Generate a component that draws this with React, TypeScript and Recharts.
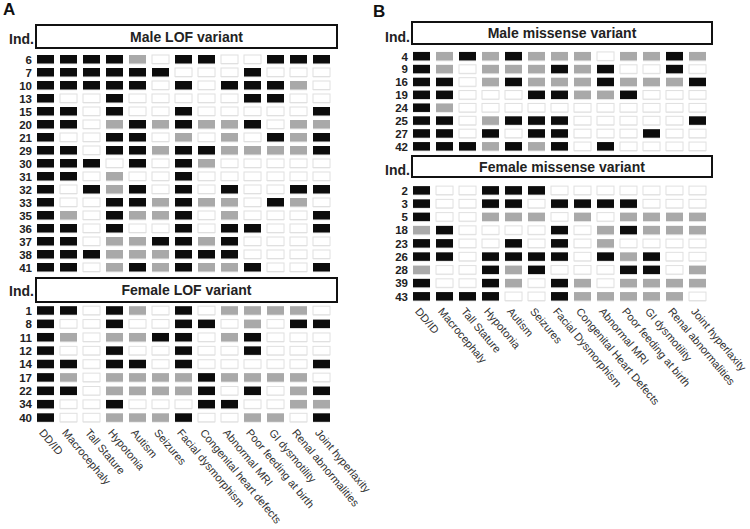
import React from 'react';
import { ScatterChart, Scatter, XAxis, YAxis } from 'recharts';

const FONT = '"Liberation Sans", Arial, sans-serif';

const traitsA = [
  'DD/ID', 'Macrocephaly', 'Tall Stature', 'Hypotonia', 'Autism', 'Seizures',
  'Facial dysmorphism', 'Congenital heart defects', 'Abnormal MRI',
  'Poor feeding at birth', 'GI dysmotility', 'Renal abnormalities', 'Joint hyperlaxity',
];
const traitsB = [
  'DD/ID', 'Macrocephaly', 'Tall Stature', 'Hypotonia', 'Autism', 'Seizures',
  'Facial Dysmorphism', 'Congenital Heart Defects', 'Abnormal MRI',
  'Poor feeding at birth', 'GI dysmotility', 'Renal abnormalities', 'Joint hyperlaxity',
];

// 2 = present (black), 1 = not reported (grey), 0 = absent (white)
const maleLofIds = ['6', '7', '10', '13', '15', '20', '21', '29', '30', '31', '32', '33', '35', '36', '37', '38', '41'];
const maleLof = [
  [2, 2, 2, 2, 1, 0, 2, 2, 0, 0, 2, 2, 2],
  [2, 2, 2, 2, 2, 2, 0, 0, 0, 2, 0, 0, 0],
  [2, 2, 2, 2, 2, 0, 2, 0, 2, 2, 2, 1, 0],
  [2, 0, 0, 2, 0, 0, 0, 0, 0, 2, 2, 0, 0],
  [2, 2, 0, 2, 0, 0, 2, 0, 0, 0, 0, 0, 2],
  [2, 2, 0, 1, 2, 1, 2, 1, 1, 2, 0, 1, 1],
  [2, 0, 0, 2, 2, 0, 1, 0, 1, 0, 2, 1, 2],
  [2, 2, 0, 2, 2, 1, 2, 2, 1, 1, 1, 1, 2],
  [2, 2, 2, 0, 2, 0, 2, 1, 0, 0, 0, 0, 0],
  [2, 2, 0, 1, 0, 0, 2, 0, 0, 0, 0, 0, 0],
  [2, 0, 2, 1, 2, 0, 2, 0, 2, 0, 0, 2, 2],
  [2, 0, 0, 2, 2, 1, 2, 1, 1, 0, 2, 1, 0],
  [2, 1, 0, 2, 1, 1, 2, 0, 1, 0, 0, 0, 2],
  [2, 2, 0, 2, 0, 0, 2, 0, 2, 2, 0, 0, 2],
  [2, 2, 0, 1, 1, 2, 2, 1, 2, 0, 0, 0, 0],
  [2, 2, 2, 1, 1, 1, 2, 2, 2, 0, 0, 0, 0],
  [2, 2, 0, 1, 2, 1, 2, 1, 1, 2, 0, 0, 2],
];

const femaleLofIds = ['1', '8', '11', '12', '14', '17', '22', '34', '40'];
const femaleLof = [
  [2, 2, 0, 2, 1, 0, 2, 0, 1, 1, 1, 1, 0],
  [2, 0, 0, 2, 0, 0, 2, 2, 0, 1, 0, 2, 2],
  [2, 1, 0, 1, 1, 2, 2, 0, 1, 2, 0, 0, 0],
  [2, 0, 0, 2, 0, 0, 2, 0, 0, 2, 0, 0, 0],
  [2, 2, 0, 2, 2, 0, 2, 0, 0, 0, 0, 0, 2],
  [2, 1, 0, 1, 1, 1, 1, 2, 1, 1, 1, 1, 0],
  [2, 2, 0, 1, 1, 1, 1, 2, 0, 2, 0, 1, 2],
  [2, 0, 0, 2, 0, 0, 0, 2, 2, 0, 0, 1, 1],
  [2, 0, 0, 1, 1, 1, 2, 0, 0, 1, 1, 0, 2],
];

const maleMisIds = ['4', '9', '16', '19', '24', '25', '27', '42'];
const maleMis = [
  [2, 1, 2, 1, 2, 1, 1, 1, 0, 1, 1, 2, 1],
  [2, 1, 0, 1, 1, 1, 2, 1, 2, 0, 0, 2, 0],
  [2, 2, 0, 1, 2, 1, 1, 1, 2, 1, 1, 1, 2],
  [2, 2, 0, 0, 0, 2, 2, 1, 1, 2, 0, 0, 0],
  [2, 1, 0, 0, 0, 0, 0, 0, 0, 0, 0, 0, 0],
  [2, 2, 0, 1, 2, 2, 2, 0, 0, 0, 0, 0, 2],
  [2, 2, 0, 2, 0, 2, 2, 0, 0, 0, 2, 0, 0],
  [2, 2, 2, 1, 2, 1, 2, 0, 2, 0, 0, 0, 0],
];

const femaleMisIds = ['2', '3', '5', '18', '23', '26', '28', '39', '43'];
const femaleMis = [
  [2, 0, 0, 2, 2, 2, 0, 0, 0, 0, 0, 0, 0],
  [2, 0, 0, 2, 2, 0, 2, 2, 2, 2, 0, 0, 0],
  [2, 0, 0, 1, 1, 1, 0, 1, 0, 1, 1, 1, 1],
  [1, 2, 0, 0, 0, 0, 2, 0, 1, 2, 1, 1, 1],
  [2, 2, 0, 0, 2, 0, 2, 0, 1, 0, 0, 0, 0],
  [2, 2, 0, 2, 2, 2, 2, 0, 2, 1, 2, 0, 0],
  [1, 0, 0, 2, 1, 2, 0, 0, 0, 2, 2, 0, 1],
  [2, 0, 0, 2, 1, 0, 2, 1, 0, 1, 1, 1, 1],
  [2, 2, 2, 2, 0, 0, 2, 1, 1, 1, 1, 1, 0],
];

const FILLS = ['#ffffff', '#a9a9a9', '#0c0c0c'];

const renderCell = (props: any) => {
  const { cx, cy, payload } = props;
  const v = payload.v;
  return (
    <g>
      <rect x={cx - 8.5} y={cy - 2} width={17} height={7} fill="#ebebeb" />
      <rect
        x={cx - 8.5}
        y={cy - 4.5}
        width={17}
        height={8.5}
        fill={FILLS[v]}
        stroke={v === 0 ? '#e0e0e0' : 'none'}
        strokeWidth={1}
      />
    </g>
  );
};

const colTicks = traitsA.map((_, i) => i);
const EXTRA_R = 90;

function Grid({ ids, rows, labels, left, top, plotH, showX }: any) {
  const pts = rows.flatMap((r: number[], i: number) => r.map((v, j) => ({ x: j, y: i, v })));
  const xH = showX ? 110 : 0;

  const xTick = ({ x, y, payload }: any) => (
    <text
      transform={`translate(${x - 7},${y + 8.5}) rotate(50)`}
      fontSize={11}
      fontFamily={FONT}
      fill="#333"
      textAnchor="start"
    >
      {labels[payload.value]}
    </text>
  );

  return (
    <div style={{ position: 'absolute', left, top }}>
      <ScatterChart width={329 + EXTRA_R} height={plotH + xH} margin={{ top: 0, right: EXTRA_R, bottom: 0, left: 0 }}>
        <XAxis
          type="number"
          dataKey="x"
          domain={[-0.5, 12.5]}
          ticks={colTicks}
          interval={0}
          hide={!showX}
          height={xH}
          axisLine={false}
          tickLine={false}
          tickSize={0}
          tickMargin={0}
          tick={xTick}
          allowDataOverflow
        />
        <YAxis
          type="number"
          dataKey="y"
          domain={[-0.5, ids.length - 0.5]}
          ticks={ids.map((_: string, i: number) => i)}
          interval={0}
          reversed
          width={30}
          axisLine={false}
          tickLine={false}
          tickSize={0}
          tickMargin={2}
          tickFormatter={(i: number) => ids[i]}
          tick={{ fontSize: 11.5, fontWeight: 700, fill: '#222', fontFamily: FONT }}
          allowDataOverflow
        />
        <Scatter data={pts} shape={renderCell} isAnimationActive={false} />
      </ScatterChart>
    </div>
  );
}

function Header({ x, y, w, h, title, indY }: any) {
  return (
    <g>
      <rect x={x} y={y} width={w} height={h} fill="#fff" stroke="#111" strokeWidth={2} />
      <text x={x + w / 2} y={y + h / 2 + 5} textAnchor="middle" fontSize={14} fontWeight={700} fill="#222" fontFamily={FONT}>
        {title}
      </text>
      <text x={x - 2} y={indY} textAnchor="end" fontSize={14} fontWeight={700} fill="#222" fontFamily={FONT}>
        Ind.
      </text>
    </g>
  );
}

export default function App() {
  return (
    <div style={{ position: 'absolute', left: 0, top: 0, width: 750, height: 529, background: '#fff', overflow: 'hidden', fontFamily: FONT }}>
      <svg width={750} height={529} style={{ position: 'absolute', left: 0, top: 0 }}>
        <text x={3} y={15} fontSize={17} fontWeight={700} fill="#111" fontFamily={FONT}>A</text>
        <text x={373} y={17} fontSize={17} fontWeight={700} fill="#111" fontFamily={FONT}>B</text>
        <Header x={36} y={25} w={301} h={23} title="Male LOF variant" indY={44} />
        <Header x={36} y={278} w={301} h={24} title="Female LOF variant" indY={296} />
        <Header x={412} y={22} w={300} h={22} title="Male missense variant" indY={42} />
        <Header x={412} y={156} w={300} h={21} title="Female missense variant" indY={175} />
      </svg>
      <Grid ids={maleLofIds} rows={maleLof} labels={traitsA} left={3.5} top={52.5} plotH={221} showX={false} />
      <Grid ids={femaleLofIds} rows={femaleLof} labels={traitsA} left={3.5} top={304.3} plotH={120.5} showX />
      <Grid ids={maleMisIds} rows={maleMis} labels={traitsB} left={379.5} top={49.6} plotH={103} showX={false} />
      <Grid ids={femaleMisIds} rows={femaleMis} labels={traitsB} left={379.5} top={184.4} plotH={119.2} showX />
    </div>
  );
}
